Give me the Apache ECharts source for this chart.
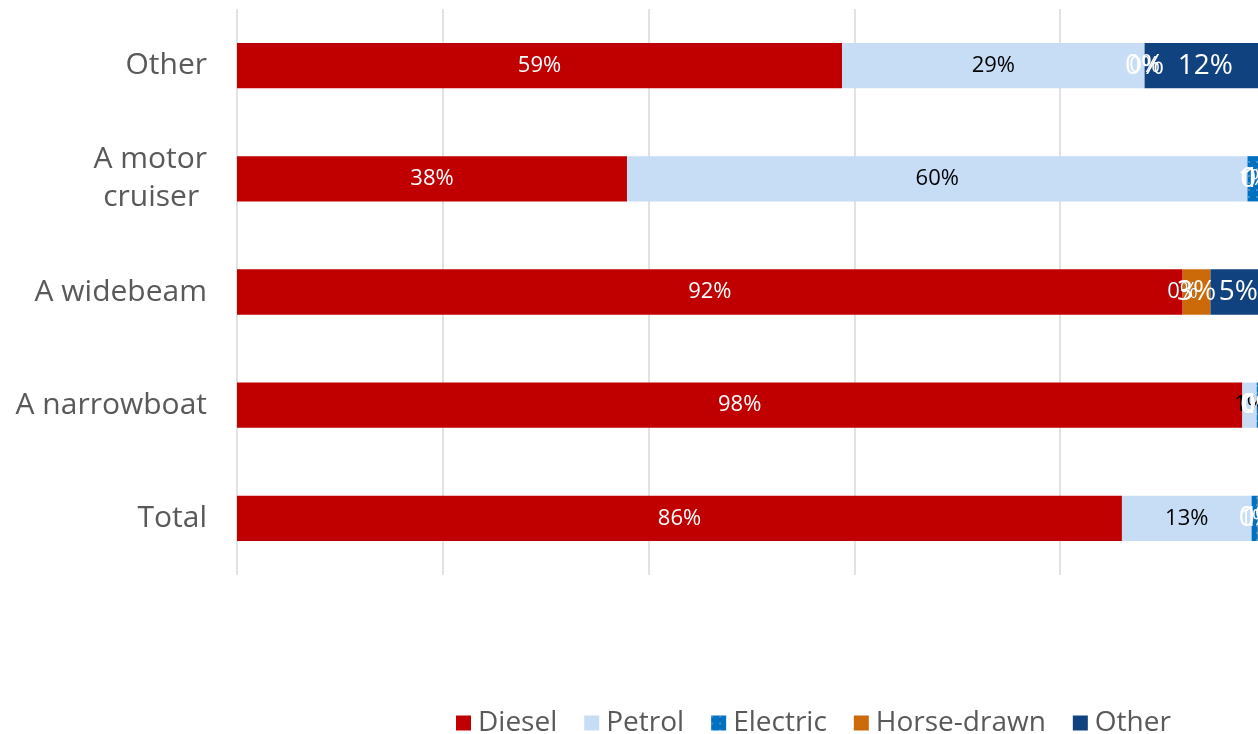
<!DOCTYPE html>
<html>
<head>
<meta charset="utf-8">
<script src="https://cdn.jsdelivr.net/npm/echarts@6/dist/echarts.min.js"></script>
<style>html,body{margin:0;padding:0;background:#fff}#c{width:1258px;height:734px}</style>
</head>
<body>
<div id="c"></div>
<script>
const categories = ['Total', 'A narrowboat', 'A widebeam', 'A motor\ncruiser ', 'Other'];
const diesel = [86.0, 97.7, 91.9, 37.9, 58.8];
const petrol = [12.6, 1.4, 0.0, 60.3, 29.4];
const electric = [0.6, 0.3, 0.0, 1.2, 0.0];
const horseDrawn = [0.1, 0.0, 2.7, 0.0, 0.0];
const other = [0.7, 0.6, 5.4, 0.6, 11.8];
const seriesNames = ['Diesel', 'Petrol', 'Electric', 'Horse-drawn', 'Other'];

const FONT = '"Open Sans", sans-serif';
const fmt = p => Math.round(p.value) + '%';

function mk(name, data, color, labelColor, labelSize, extra) {
  return Object.assign({
    name: name, type: 'bar', stack: 'all', data: data, barWidth: '40%',
    itemStyle: { color: color },
    label: { show: true, position: 'inside', formatter: fmt, color: labelColor, fontSize: labelSize, fontFamily: FONT },
    emphasis: { disabled: true }
  }, extra || {});
}

const chart = echarts.init(document.getElementById('c'), null, { renderer: 'canvas' });
chart.setOption({
  animation: false,
  grid: { left: 237, width: 1029, top: 9, bottom: 159, containLabel: false, outerBoundsMode: 'none' },
  xAxis: {
    type: 'value', min: 0, max: 100, interval: 20,
    axisLabel: { show: false }, axisLine: { show: false }, axisTick: { show: false },
    splitLine: { show: true, lineStyle: { color: '#d9d9d9', width: 1.5 } }
  },
  yAxis: {
    type: 'category', data: categories,
    axisLine: { show: false }, axisTick: { show: false },
    axisLabel: { color: '#595959', fontSize: 30, fontFamily: FONT, margin: 30, lineHeight: 38, align: 'right' }
  },
  legend: {
    left: 451, top: 704, itemWidth: 15, itemHeight: 15, itemGap: 27, icon: 'rect',
    textStyle: { color: '#595959', fontSize: 28, fontFamily: FONT, padding: [0, 0, 0, 2] },
    data: seriesNames
  },
  series: [
    mk('Diesel', diesel, '#C00000', '#ffffff', 22),
    mk('Petrol', petrol, '#C7DDF6', '#000000', 22),
    mk('Electric', electric, '#0070C0', '#ffffff', 22, {
      itemStyle: { color: '#0070C0', decal: { symbol: 'rect', symbolSize: 0.5, color: '#ffffff', dashArrayX: [[2, 6]], dashArrayY: [2, 5] } }
    }),
    mk('Horse-drawn', horseDrawn, '#CC6A0A', '#ffffff', 28),
    mk('Other', other, '#10427F', '#ffffff', 28)
  ]
});
</script>
</body>
</html>
